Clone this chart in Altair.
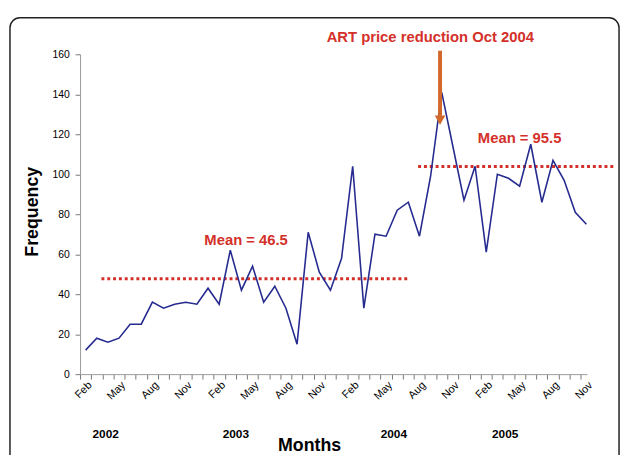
import altair as alt
import pandas as pd

# ---------------- data ----------------
month_names = ["Jan", "Feb", "Mar", "Apr", "May", "Jun",
               "Jul", "Aug", "Sep", "Oct", "Nov", "Dec"]
months = [f"{month_names[(1 + i) % 12]} {2002 + (1 + i) // 12}" for i in range(46)]  # Feb 2002 .. Nov 2005
frequency = [12, 18, 16, 18, 25, 25, 36, 33, 35, 36, 35, 43,
             35, 62, 42, 54, 36, 44, 33, 15, 71, 51, 42, 58,
             104, 33, 70, 69, 82, 86, 69, 99, 141, 114, 87, 104,
             61, 100, 98, 94, 115, 86, 107, 97, 81, 75]

tick_labels = ["Feb", "May", "Aug", "Nov"] * 4          # every 3rd month
year_labels = ["2002", "2003", "2004", "2005"]
year_pos = [1.8, 13.5, 27.7, 37.7]
year_y = [-30, -30, -30, -30]

mean_labels = ["Mean = 46.5", "Mean = 95.5"]
mean_values = [47.7, 103.9]
mean_start = [1.42, 29.88]
mean_end = [29.13, 47.47]
mean_label_x = [14.42, 39.0]
mean_label_y = [67.2, 118.2]

annot_text = ["ART price reduction Oct 2004"]
annot_x = [30.97]
annot_y = [168.4]
arrow_x = [31.85]
arrow_top = [161.8]
arrow_base = [129.2]
arrow_head = [127.1]

# ---------------- frames ----------------
df = pd.DataFrame({"idx": list(range(len(frequency))), "month": months, "freq": frequency})
years_df = pd.DataFrame({"x": year_pos, "y": year_y, "t": year_labels})
mean_df = pd.DataFrame({"x": mean_start, "x2": mean_end, "y": mean_values,
                        "lx": mean_label_x, "ly": mean_label_y, "t": mean_labels})
annot_df = pd.DataFrame({"x": annot_x, "y": annot_y, "t": annot_text,
                         "ax": arrow_x, "top": arrow_top, "base": arrow_base, "head": arrow_head})
frame_df = pd.DataFrame({"a": [0]})

FONT = "Liberation Sans"
RED = "#d4302a"
ORANGE = "#d2692a"
NAVY = "#262b8f"

xscale = alt.Scale(domain=[-0.5, 45.05], nice=False, zero=False)
yscale = alt.Scale(domain=[0, 160], nice=False, zero=False)

boundaries = [i - 0.5 for i in range(46)]
label_js = "[" + ",".join(f"'{m}'" for m in tick_labels) + "]"
label_expr = f"(datum.value + 0.5) % 3 == 0 ? {label_js}[(datum.value + 0.5) / 3] : ''"

x_axis = alt.Axis(values=boundaries, tickCount=100, labelExpr=label_expr, labelAngle=315,
                  labelAlign="right", labelBaseline="top", labelOffset=5.64,
                  labelPadding=0, tickSize=5, tickColor="#777", domainColor="#999",
                  labelFont=FONT, labelFontSize=11, labelColor="black",
                  labelOverlap=False, labelFlush=False, labelBound=False, grid=False,
                  title="Months", titleFont=FONT, titleFontSize=18, titleFontWeight="bold",
                  titleColor="black", titleX=232, titleY=77, titleAlign="center",
                  titleBaseline="alphabetic")
y_axis = alt.Axis(values=list(range(0, 161, 20)), tickCount=20, tickSize=5, tickColor="#777",
                  domainColor="#999", labelFont=FONT, labelFontSize=10.5,
                  labelColor="black", labelPadding=6, grid=False,
                  title="Frequency", titleFont=FONT, titleFontSize=18,
                  titleFontWeight="bold", titleColor="black", titleAngle=270,
                  titleX=-48, titleY=159, titleAlign="center", titleBaseline="middle")

frame = alt.Chart(frame_df).mark_rect(fillOpacity=0, stroke="#222", strokeWidth=1.5,
                                      cornerRadius=10).encode(
    x=alt.value(-71), x2=alt.value(546), y=alt.value(-37), y2=alt.value(430))

line = alt.Chart(df).mark_line(color=NAVY, strokeWidth=1.6).encode(
    x=alt.X("idx:Q", scale=xscale, axis=x_axis),
    y=alt.Y("freq:Q", scale=yscale, axis=y_axis),
)

mean_rules = alt.Chart(mean_df).mark_rule(color=RED, strokeWidth=3, strokeDash=[3, 2.9]).encode(
    x=alt.X("x:Q", scale=xscale), x2="x2:Q", y=alt.Y("y:Q", scale=yscale))

mean_text = alt.Chart(mean_df).mark_text(font=FONT, fontSize=15, fontWeight="bold",
                                         color=RED, baseline="middle").encode(
    x=alt.X("lx:Q", scale=xscale), y=alt.Y("ly:Q", scale=yscale), text="t:N")

annot_text_layer = alt.Chart(annot_df).mark_text(font=FONT, fontSize=15, fontWeight="bold",
                                                 color=RED, baseline="middle").encode(
    x=alt.X("x:Q", scale=xscale), y=alt.Y("y:Q", scale=yscale), text="t:N")

arrow_shaft = alt.Chart(annot_df).mark_rule(color=ORANGE, strokeWidth=4).encode(
    x=alt.X("ax:Q", scale=xscale), y=alt.Y("top:Q", scale=yscale), y2="base:Q")

arrow_tip = alt.Chart(annot_df).mark_point(shape="triangle-down", filled=True, color=ORANGE,
                                           size=115, opacity=1).encode(
    x=alt.X("ax:Q", scale=xscale), y=alt.Y("head:Q", scale=yscale))

years = alt.Chart(years_df).mark_text(font=FONT, fontSize=12, fontWeight="bold",
                                      color="black", baseline="middle").encode(
    x=alt.X("x:Q", scale=xscale), y=alt.Y("y:Q", scale=yscale), text="t:N")

chart = alt.layer(frame, mean_rules, line, mean_text, annot_text_layer,
                  arrow_shaft, arrow_tip, years).properties(
    width=513.5, height=324,
    autosize=alt.AutoSizeParams(type="none"),
    padding={"left": 73, "top": 44, "right": 34.5, "bottom": 79},
    background="white",
).configure_view(strokeWidth=0)

chart.save("out.html", embed_options={"renderer": "svg", "actions": False})
